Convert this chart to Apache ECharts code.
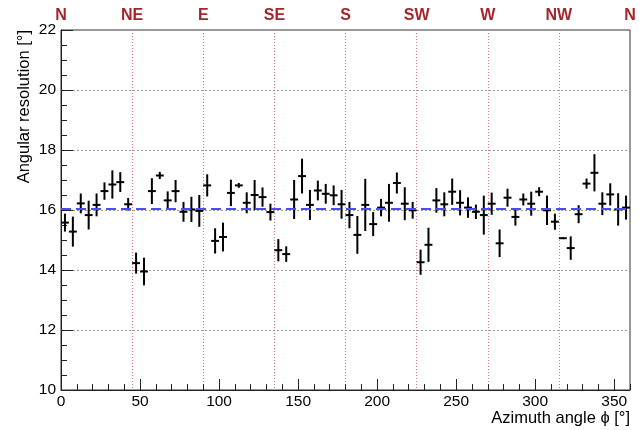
<!DOCTYPE html>
<html>
<head>
<meta charset="utf-8">
<script src="https://cdn.jsdelivr.net/npm/echarts@6/dist/echarts.min.js"></script>
<style>
html,body{margin:0;padding:0;background:#fff;}
#chart{width:642px;height:430px;}
</style>
</head>
<body>
<div id="chart"></div>
<script>
// Bin centres (azimuth, degrees)
const azimuth = [2.5, 7.5, 12.5, 17.5, 22.5, 27.5, 32.5, 37.5, 42.5, 47.5, 52.5, 57.5,
  62.5, 67.5, 72.5, 77.5, 82.5, 87.5, 92.5, 97.5, 102.5, 107.5, 112.5, 117.5,
  122.5, 127.5, 132.5, 137.5, 142.5, 147.5, 152.5, 157.5, 162.5, 167.5, 172.5, 177.5,
  182.5, 187.5, 192.5, 197.5, 202.5, 207.5, 212.5, 217.5, 222.5, 227.5, 232.5, 237.5,
  242.5, 247.5, 252.5, 257.5, 262.5, 267.5, 272.5, 277.5, 282.5, 287.5, 292.5, 297.5,
  302.5, 307.5, 312.5, 317.5, 322.5, 327.5, 332.5, 337.5, 342.5, 347.5, 352.5, 357.5];
// Half bin width (x error)
const binHalfWidth = 2.5;
// Angular resolution (degrees)
const resolution = [15.58, 15.28, 16.22, 15.83, 16.17, 16.63, 16.85, 16.93, 16.19, 14.23, 13.95, 16.63,
  17.15, 16.32, 16.63, 15.94, 16.02, 15.97, 16.82, 14.97, 15.10, 16.57, 16.82, 16.24,
  16.50, 16.43, 15.93, 14.66, 14.53, 16.35, 17.13, 16.17, 16.65, 16.54, 16.49, 16.19,
  15.83, 15.17, 16.17, 15.53, 16.08, 16.24, 16.90, 16.21, 15.99, 14.26, 14.84, 16.32,
  16.19, 16.61, 16.24, 16.08, 15.94, 15.83, 16.21, 14.89, 16.41, 15.77, 16.35, 16.21,
  16.61, 15.99, 15.61, 15.06, 14.73, 15.86, 16.88, 17.24, 16.21, 16.52, 16.02, 16.08];
// Error on resolution
const resolutionErr = [0.30, 0.50, 0.33, 0.48, 0.38, 0.29, 0.47, 0.33, 0.21, 0.35, 0.46, 0.43,
  0.12, 0.30, 0.37, 0.33, 0.42, 0.53, 0.37, 0.42, 0.48, 0.44, 0.08, 0.35,
  0.50, 0.32, 0.28, 0.37, 0.26, 0.65, 0.58, 0.50, 0.33, 0.33, 0.33, 0.48,
  0.44, 0.63, 0.87, 0.40, 0.29, 0.63, 0.35, 0.55, 0.28, 0.42, 0.57, 0.41,
  0.40, 0.44, 0.42, 0.34, 0.24, 0.65, 0.37, 0.46, 0.30, 0.29, 0.20, 0.40,
  0.15, 0.49, 0.27, 0.03, 0.39, 0.30, 0.17, 0.62, 0.38, 0.37, 0.54, 0.40];
// Mean resolution (fit line)
const meanResolution = 16.04;
// Compass labels every 45 degrees
const directions = ['N', 'NE', 'E', 'SE', 'S', 'SW', 'W', 'NW', 'N'];

const font = '"Liberation Sans", Arial, Helvetica, sans-serif';
const chart = echarts.init(document.getElementById('chart'), null, {renderer: 'canvas'});

const data = azimuth.map((a, i) => [a, resolution[i], resolutionErr[i], binHalfWidth]);

chart.setOption({
  animation: false,
  backgroundColor: '#fff',
  grid: {left: 61, right: 12, top: 30, bottom: 40, show: true, borderColor: '#333', borderWidth: 1, backgroundColor: 'transparent'},
  xAxis: [
    {
      type: 'value', position: 'bottom', min: 0, max: 360, interval: 50,
      axisLine: {show: true, lineStyle: {color: '#222', width: 1}},
      axisTick: {show: true, inside: true, length: 11, lineStyle: {color: '#222'}},
      axisLabel: {show: true, color: '#000', fontSize: 15.5, fontFamily: font, margin: 4, showMaxLabel: false},
      splitLine: {show: false}
    },
    {
      type: 'value', position: 'bottom', min: 0, max: 360, interval: 10,
      axisLine: {show: false},
      axisTick: {show: true, inside: true, length: 6, lineStyle: {color: '#222'}},
      axisLabel: {show: false},
      splitLine: {show: false}
    },
    {
      type: 'value', position: 'top', min: 0, max: 360, interval: 45,
      axisLine: {show: false},
      axisTick: {show: false},
      axisLabel: {
        show: true, color: '#a3262c', fontSize: 16, fontWeight: 'bold', fontFamily: font, margin: 6,
        showMinLabel: true, showMaxLabel: true,
        formatter: v => directions[Math.round(v / 45)]
      },
      splitLine: {show: true, showMinLine: false, showMaxLine: false, lineStyle: {color: '#d47a7a', type: [1, 2], width: 1}}
    }
  ],
  yAxis: {
    type: 'value', min: 10, max: 22, interval: 2,
    axisLine: {show: true, lineStyle: {color: '#222', width: 1}},
    axisTick: {show: true, inside: true, length: 12, lineStyle: {color: '#222'}},
    minorTick: {show: true, splitNumber: 4, length: 6, lineStyle: {color: '#222'}},
    axisLabel: {color: '#000', fontSize: 15.5, fontFamily: font, margin: 5},
    splitLine: {show: true, showMinLine: false, showMaxLine: false, lineStyle: {color: '#999', type: [2, 2], width: 1}}
  },
  graphic: [
    {
      type: 'text', x: 24, y: 30, rotation: Math.PI / 2,
      style: {text: 'Angular resolution [°]', fill: '#000', font: '16.5px ' + font, textAlign: 'right', textVerticalAlign: 'middle'}
    },
    {
      type: 'text', x: 630, y: 418,
      style: {text: 'Azimuth angle ϕ [°]', fill: '#000', font: '16.5px ' + font, textAlign: 'right', textVerticalAlign: 'middle'}
    }
  ],
  series: [
    {
      type: 'custom',
      xAxisIndex: 0,
      data: data,
      encode: {x: 0, y: 1},
      renderItem: function (params, api) {
        const x = api.value(0), y = api.value(1), ey = api.value(2), ex = api.value(3);
        const l = api.coord([x - ex, y]);
        const r = api.coord([x + ex, y]);
        const t = api.coord([x, y + ey]);
        const b = api.coord([x, y - ey]);
        const st = {stroke: '#000', lineWidth: 2};
        return {
          type: 'group',
          children: [
            {type: 'line', shape: {x1: l[0], y1: l[1], x2: r[0], y2: r[1]}, style: st},
            {type: 'line', shape: {x1: t[0], y1: t[1], x2: b[0], y2: b[1]}, style: st}
          ]
        };
      },
      markLine: {
        silent: true, symbol: 'none', label: {show: false},
        lineStyle: {color: '#4a4aff', type: [10, 5], width: 2},
        data: [{yAxis: meanResolution}]
      },
      z: 3
    }
  ]
});
</script>
</body>
</html>
